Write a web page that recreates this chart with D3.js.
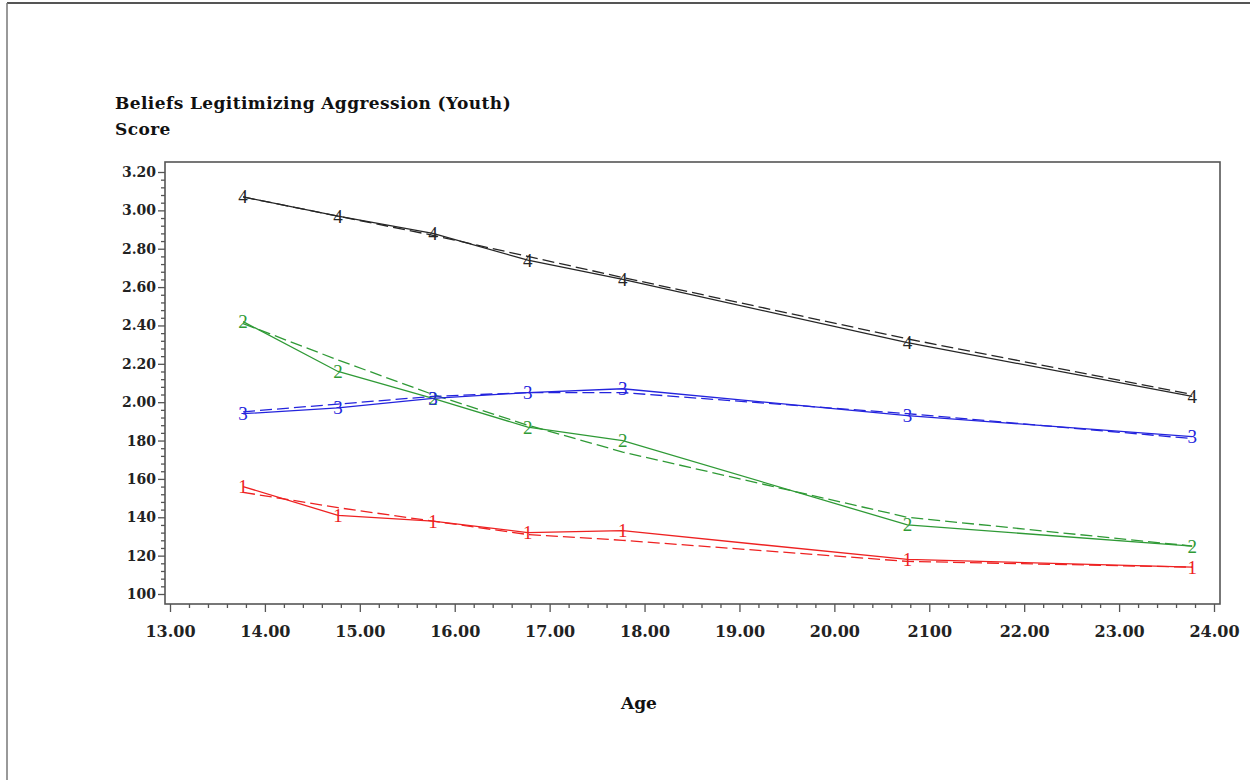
<!DOCTYPE html>
<html>
<head>
<meta charset="utf-8">
<script src="https://cdn.jsdelivr.net/npm/d3@7"></script>
<style>
  html, body { margin: 0; padding: 0; background: #fff; }
  svg { display: block; }
</style>
</head>
<body>
<svg id="chart" width="1250" height="780"></svg>
<script>
// Measurement ages (x) shared by every group
const ages = [13.77, 14.77, 15.77, 16.77, 17.77, 20.77, 23.77];

// Observed means (solid) and model-fitted means (dashed) for each group
const group1Observed = [1.56, 1.41, 1.38, 1.32, 1.33, 1.18, 1.14];
const group1Fitted   = [1.53, 1.45, 1.38, 1.31, 1.28, 1.17, 1.14];
const group2Observed = [2.42, 2.16, 2.02, 1.87, 1.80, 1.36, 1.25];
const group2Fitted   = [2.41, 2.22, 2.04, 1.88, 1.74, 1.40, 1.25];
const group3Observed = [1.94, 1.97, 2.02, 2.05, 2.07, 1.93, 1.82];
const group3Fitted   = [1.95, 1.99, 2.03, 2.05, 2.05, 1.94, 1.81];
const group4Observed = [3.07, 2.97, 2.88, 2.74, 2.64, 2.31, 2.03];
const group4Fitted   = [3.07, 2.97, 2.87, 2.76, 2.65, 2.33, 2.04];

const groupLabels = ["1", "2", "3", "4"];
const groupColors = ["#ee2222", "#2f9a36", "#2424dd", "#262626"];

// Axis ticks and their printed labels
const yTicks = [1.00, 1.20, 1.40, 1.60, 1.80, 2.00, 2.20, 2.40, 2.60, 2.80, 3.00, 3.20];
const yTickLabels = ["100", "120", "140", "160", "180", "2.00", "2.20", "2.40", "2.60", "2.80", "3.00", "3.20"];
const xTicks = [13, 14, 15, 16, 17, 18, 19, 20, 21, 22, 23, 24];
const xTickLabels = ["13.00", "14.00", "15.00", "16.00", "17.00", "18.00", "19.00", "20.00", "2100", "22.00", "23.00", "24.00"];

const groups = [
  { label: groupLabels[0], color: groupColors[0], observed: group1Observed, fitted: group1Fitted },
  { label: groupLabels[1], color: groupColors[1], observed: group2Observed, fitted: group2Fitted },
  { label: groupLabels[2], color: groupColors[2], observed: group3Observed, fitted: group3Fitted },
  { label: groupLabels[3], color: groupColors[3], observed: group4Observed, fitted: group4Fitted }
];

const svg = d3.select("#chart");
const serif = "'DejaVu Serif', 'Liberation Serif', serif";
const symbolFont = "'Liberation Serif', serif";

// Page frame (top and left edges)
svg.append("line").attr("x1", 7).attr("y1", 3).attr("x2", 1250).attr("y2", 3)
  .attr("stroke", "#555").attr("stroke-width", 2);
svg.append("line").attr("x1", 7).attr("y1", 3).attr("x2", 7).attr("y2", 780)
  .attr("stroke", "#777").attr("stroke-width", 1.5);

// Plot region
const box = { left: 165, top: 162, right: 1220, bottom: 604 };
const x = d3.scaleLinear().domain([13, 24]).range([170, 1214]);
const y = d3.scaleLinear().domain([1.0, 3.2]).range([594, 172]);

// Frame of the plot
svg.append("rect")
  .attr("x", box.left).attr("y", box.top)
  .attr("width", box.right - box.left).attr("height", box.bottom - box.top)
  .attr("fill", "none").attr("stroke", "#555").attr("stroke-width", 1.6);

// Minor ticks
const yMinor = d3.range(1.0, 3.2001, 0.04).filter(v => Math.abs(Math.round(v * 5) - v * 5) > 1e-6);
const xMinor = d3.range(13, 24.0001, 0.2).filter(v => Math.abs(Math.round(v) - v) > 1e-6);

const yAxis = d3.axisLeft(y).tickValues(yTicks)
  .tickFormat((d, i) => yTickLabels[i]).tickSize(7).tickPadding(2);
const yAxisMinor = d3.axisLeft(y).tickValues(yMinor).tickFormat("").tickSize(4);
const xAxis = d3.axisBottom(x).tickValues(xTicks)
  .tickFormat((d, i) => xTickLabels[i]).tickSize(8).tickPadding(14);
const xAxisMinor = d3.axisBottom(x).tickValues(xMinor).tickFormat("").tickSize(4);

function styleAxis(size) {
  return g => {
    g.select(".domain").remove();
    g.selectAll(".tick line").attr("stroke", "#555").attr("stroke-width", 1.3);
    g.selectAll(".tick text")
      .attr("fill", "#222")
      .style("font-family", serif)
      .style("font-size", size)
      .style("font-weight", "bold");
  };
}

svg.append("g").attr("transform", `translate(${box.left},0)`).call(yAxisMinor).call(styleAxis("14px"));
svg.append("g").attr("transform", `translate(${box.left},0)`).call(yAxis).call(styleAxis("14px"));
svg.append("g").attr("transform", `translate(0,${box.bottom})`).call(xAxisMinor).call(styleAxis("16px"));
svg.append("g").attr("transform", `translate(0,${box.bottom})`).call(xAxis).call(styleAxis("16px"));

// Lines: fitted (dashed) and observed (solid)
const line = d3.line().x(d => x(d[0])).y(d => y(d[1]));
const plot = svg.append("g");

groups.forEach(g => {
  plot.append("path")
    .datum(ages.map((a, i) => [a, g.fitted[i]]))
    .attr("d", line)
    .attr("fill", "none")
    .attr("stroke", g.color)
    .attr("stroke-width", 1.3)
    .attr("stroke-dasharray", "12,5");
  plot.append("path")
    .datum(ages.map((a, i) => [a, g.observed[i]]))
    .attr("d", line)
    .attr("fill", "none")
    .attr("stroke", g.color)
    .attr("stroke-width", 1.3);
});

// Group number symbols at each observed point
groups.forEach(g => {
  plot.selectAll(null)
    .data(ages.map((a, i) => [a, g.observed[i]]))
    .join("text")
    .attr("x", d => x(d[0]))
    .attr("y", d => y(d[1]))
    .attr("text-anchor", "middle")
    .attr("dominant-baseline", "central")
    .attr("fill", g.color)
    .style("font-family", symbolFont)
    .style("font-size", "19px")
    .text(g.label);
});

// Titles
svg.append("text").attr("x", 115).attr("y", 109)
  .style("font-family", serif).style("font-size", "17px").style("font-weight", "bold")
  .style("letter-spacing", "0.4px")
  .attr("fill", "#111")
  .text("Beliefs Legitimizing Aggression (Youth)");
svg.append("text").attr("x", 115).attr("y", 135)
  .style("font-family", serif).style("font-size", "17px").style("font-weight", "bold")
  .style("letter-spacing", "0.4px")
  .attr("fill", "#111")
  .text("Score");
svg.append("text").attr("x", 639).attr("y", 709)
  .attr("text-anchor", "middle")
  .style("font-family", serif).style("font-size", "17px").style("font-weight", "bold")
  .attr("fill", "#111")
  .text("Age");
</script>
</body>
</html>
